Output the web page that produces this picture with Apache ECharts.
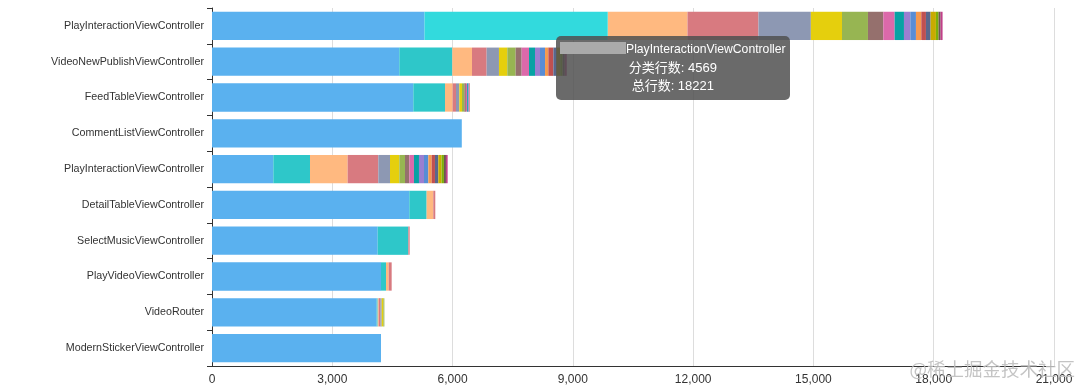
<!DOCTYPE html>
<html>
<head>
<meta charset="utf-8">
<script src="https://cdn.jsdelivr.net/npm/echarts@6/dist/echarts.min.js"></script>
<style>
html,body{margin:0;padding:0;background:#fff;}
#chart{width:1080px;height:390px;}
</style>
</head>
<body>
<div id="chart"></div>
<script>
// Categories (top to bottom)
const categories = [
  'PlayInteractionViewController',
  'VideoNewPublishViewController',
  'FeedTableViewController',
  'CommentListViewController',
  'PlayInteractionViewController',
  'DetailTableViewController',
  'SelectMusicViewController',
  'PlayVideoViewController',
  'VideoRouter',
  'ModernStickerViewController'
];
const xTicks = { min: 0, max: 21000, interval: 3000 };

// Stacked series values (one value per category)
const s1  = [5300, 4672, 5021, 6230, 1530, 4921, 4132, 4215, 4107, 4215];
const s2  = [4569, 1322,  790,    0,  914,  432,  765,  125,   25,    0];
const s3  = [1990,  490,  191,    0,  939,  166,    0,   66,   25,    0];
const s4  = [1770,  366,   83,    0,  765,   50,   33,   75,   42,    0];
const s5  = [1307,  307,   83,    0,  291,    0,    0,    0,   33,    0];
const s6  = [ 776,  208,   67,    0,  233,    0,    0,    0,   42,    0];
const s7  = [ 648,  208,   58,    0,  141,    0,    0,    0,   25,    0];
const s8  = [ 382,  150,   40,    0,  108,    0,    0,    0,    0,    0];
const s9  = [ 283,  183,   30,    0,  116,    0,    0,    0,    0,    0];
const s10 = [ 233,  150,   25,    0,  125,    0,    0,    0,    0,    0];
const s11 = [ 158,  125,   20,    0,  125,    0,    0,    0,    0,    0];
const s12 = [ 141,  125,   10,    0,  108,    0,    0,    0,    0,    0];
const s13 = [ 133,   83,    8,    0,   83,    0,    0,    0,    0,    0];
const s14 = [ 116,  125,    8,    0,   83,    0,    0,    0,    0,    0];
const s15 = [ 116,   80,    0,    0,   83,    0,    0,    0,    0,    0];
const s16 = [ 133,   90,    0,    0,   83,    0,    0,    0,    0,    0];
const s17 = [  66,   60,    0,    0,   58,    0,    0,    0,    0,    0];
const s18 = [  50,   54,    0,    0,   50,    0,    0,    0,    0,    0];
const s19 = [  50,   50,    0,    0,   42,    0,    0,    0,    0,    0];
const seriesData = [s1,s2,s3,s4,s5,s6,s7,s8,s9,s10,s11,s12,s13,s14,s15,s16,s17,s18,s19];

const palette = ['#5ab1ef','#2ec7c9','#ffb980','#d87a80','#8d98b3','#e5cf0d','#97b552','#95706d',
  '#dc69aa','#07a2a4','#9a7fd1','#588dd5','#f5994e','#c05050','#59678c','#c9ab00','#7eb00a','#6f5553','#c14089'];

const totals = categories.map((_, i) => seriesData.reduce((a, s) => a + s[i], 0));

const chart = echarts.init(document.getElementById('chart'), null, { renderer: 'canvas' });
const option = {
  animation: false,
  color: palette,
  textStyle: { fontFamily: 'Liberation Sans, Helvetica, Arial, sans-serif' },
  grid: { left: 212, right: 26, top: 8, bottom: 24, containLabel: false },
  tooltip: {
    trigger: 'item',
    alwaysShowContent: true,
    transitionDuration: 0,
    backgroundColor: 'rgba(80,80,80,0.85)',
    borderWidth: 0,
    borderRadius: 5,
    padding: [4, 4],
    position: [556, 36],
    textStyle: { color: '#fff', fontSize: 13 },
    extraCssText: 'box-shadow:none;white-space:nowrap;',
    formatter: function (p) {
      return '<div style="text-align:center;line-height:18.5px;font-family:Liberation Sans,Helvetica,Arial,\'Noto Sans CJK SC\',sans-serif;font-size:13px;color:#fff">' +
        '<span style="display:inline-block;width:66px;height:12px;background:#aaaaaa;vertical-align:-1px;"></span>' +
        '<span style="font-size:12.2px">' + categories[p.dataIndex] + '</span><br/>' +
        '分类行数: ' + p.value + '<br/>' +
        '总行数: ' + totals[p.dataIndex] + '</div>';
    }
  },
  xAxis: {
    type: 'value',
    min: xTicks.min, max: xTicks.max, interval: xTicks.interval,
    axisLine: { show: true, lineStyle: { color: '#333' } },
    axisTick: { show: false },
    axisLabel: { color: '#333', fontSize: 12, margin: 8 },
    splitLine: { show: true, lineStyle: { color: '#ddd' } }
  },
  yAxis: {
    type: 'category',
    inverse: true,
    data: categories,
    axisLine: { show: true, lineStyle: { color: '#333' } },
    axisTick: { show: true, length: 5, lineStyle: { color: '#333' } },
    axisLabel: { color: '#333', fontSize: 10.7, margin: 8 }
  },
  series: seriesData.map((d, i) => ({
    name: '分类' + (i + 1),
    type: 'bar',
    stack: 'total',
    barCategoryGap: '21%',
    data: d
  })),
  graphic: [{
    type: 'text',
    right: 5,
    bottom: 12,
    z: 100,
    style: {
      text: '@稀土掘金技术社区',
      fill: 'rgba(190,190,190,0.9)',
      fontSize: 18.5,
      fontFamily: 'Noto Sans CJK SC, sans-serif'
    }
  }]
};
chart.setOption(option);
chart.dispatchAction({ type: 'highlight', seriesIndex: 1, dataIndex: 0 });
chart.dispatchAction({ type: 'showTip', seriesIndex: 1, dataIndex: 0 });
</script>
</body>
</html>
